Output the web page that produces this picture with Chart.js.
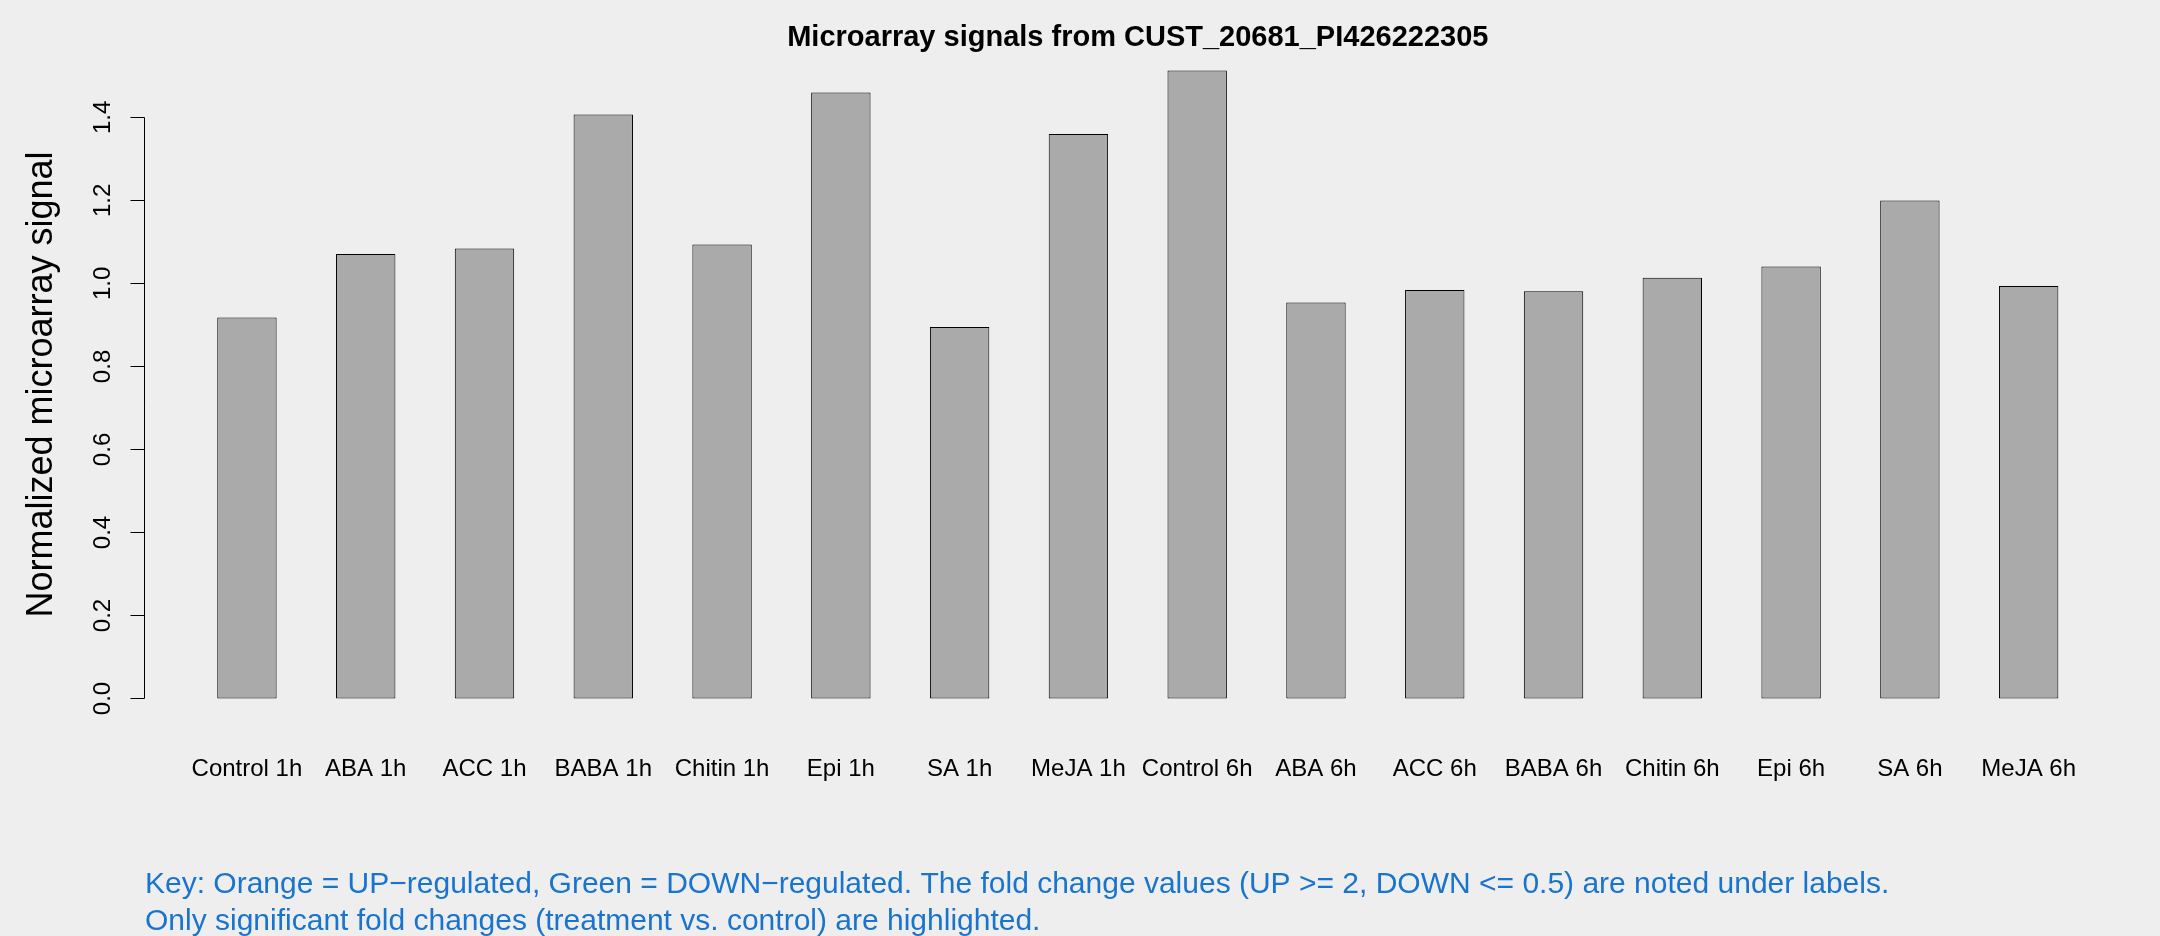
<!DOCTYPE html>
<html lang="en">
  <head>
    <meta charset="UTF-8" />
    <title>Microarray signals from CUST_20681_PI426222305</title>
    <script src="https://cdn.jsdelivr.net/npm/chart.js"></script>
    <style>
      html, body { margin: 0; padding: 0; background: #eeeeee; }
      canvas { display: block; }
    </style>
  </head>
  <body>

    <canvas id="signalChart" width="2160" height="936"></canvas>

    <script>
    const chartTitle = 'Microarray signals from CUST_20681_PI426222305';
    const yTitle = 'Normalized microarray signal';
    const categories = ['Control 1h', 'ABA 1h', 'ACC 1h', 'BABA 1h', 'Chitin 1h', 'Epi 1h', 'SA 1h', 'MeJA 1h',
                        'Control 6h', 'ABA 6h', 'ACC 6h', 'BABA 6h', 'Chitin 6h', 'Epi 6h', 'SA 6h', 'MeJA 6h'];
    const signal = [0.918, 1.071, 1.084, 1.407, 1.094, 1.460, 0.895, 1.360,
                    1.513, 0.954, 0.984, 0.981, 1.014, 1.041, 1.200, 0.994];
    const yTicks = [0, 0.2, 0.4, 0.6, 0.8, 1.0, 1.2, 1.4];
    const yTickLabels = ['0.0', '0.2', '0.4', '0.6', '0.8', '1.0', '1.2', '1.4'];
    const keyLines = [
        'Key: Orange = UP\u2212regulated, Green = DOWN\u2212regulated. The fold change values (UP >= 2, DOWN <= 0.5) are noted under labels.',
        'Only significant fold changes (treatment vs. control) are highlighted.'
    ];

    // barplot layout: bar width 1, space 1 -> bar i spans [2i+1, 2i+2]
    const mids = categories.map((c, i) => 2 * i + 1.5);
    const xMin = 1 - 0.04 * (2 * categories.length - 1);
    const xMax = 2 * categories.length + 0.04 * (2 * categories.length - 1);
    const yMax = Math.max(...signal);

    const FONT = '"Liberation Sans", Arial, Helvetica, sans-serif';

    const rAxes = {
        id: 'rAxes',
        beforeDraw(chart) {
            const {ctx, width, height} = chart;
            ctx.save();
            ctx.fillStyle = '#eeeeee';
            ctx.fillRect(0, 0, width, height);
            ctx.restore();
        },
        afterDraw(chart) {
            const {ctx, chartArea: {top, bottom, left, right}, scales: {x, y}} = chart;
            ctx.save();
            ctx.fillStyle = '#000';
            ctx.strokeStyle = '#000';

            // title
            ctx.font = 'bold 29px ' + FONT;
            ctx.textAlign = 'center';
            ctx.textBaseline = 'alphabetic';
            ctx.fillText(chartTitle, (left + right) / 2, 46);

            // y axis
            const ax = Math.round(left) + 0.5;
            ctx.lineWidth = 1;
            ctx.beginPath();
            ctx.moveTo(ax, y.getPixelForValue(yTicks[0]));
            ctx.lineTo(ax, y.getPixelForValue(yTicks[yTicks.length - 1]));
            yTicks.forEach(t => {
                const py = Math.round(y.getPixelForValue(t)) + 0.5;
                ctx.moveTo(ax, py);
                ctx.lineTo(ax - 14, py);
            });
            ctx.stroke();

            ctx.font = '24px ' + FONT;
            yTicks.forEach((t, i) => {
                ctx.save();
                ctx.translate(110, y.getPixelForValue(t));
                ctx.rotate(-Math.PI / 2);
                ctx.fillText(yTickLabels[i], 0, 0);
                ctx.restore();
            });

            // category labels
            mids.forEach((m, i) => {
                ctx.fillText(categories[i], x.getPixelForValue(m), 776);
            });

            // y title
            ctx.font = '36px ' + FONT;
            ctx.save();
            ctx.translate(52, (top + bottom) / 2);
            ctx.rotate(-Math.PI / 2);
            ctx.fillText(yTitle, 0, 0);
            ctx.restore();

            // key
            ctx.font = '30px ' + FONT;
            ctx.fillStyle = '#1874cd';
            ctx.textAlign = 'left';
            ctx.fillText(keyLines[0], 145, 893);
            ctx.fillText(keyLines[1], 145, 930);

            ctx.restore();
        }
    };

    new Chart(document.getElementById('signalChart'), {
        type: 'bar',
        data: {
            datasets: [{
                data: mids.map((m, i) => ({x: m, y: signal[i]})),
                backgroundColor: '#aaaaaa',
                borderColor: '#000000',
                borderWidth: 1,
                borderSkipped: false,
                categoryPercentage: 1,
                barPercentage: 0.5,
            }]
        },
        options: {
            responsive: false,
            animation: false,
            devicePixelRatio: 1,
            layout: {
                padding: {left: 143.6, right: 28, top: 45.4, bottom: 212.4}
            },
            scales: {
                x: {type: 'linear', min: xMin, max: xMax, offset: false, display: false},
                y: {min: -0.04 * yMax, max: 1.04 * yMax, display: false},
            },
            plugins: {
                legend: {display: false},
                tooltip: {enabled: false},
            },
        },
        plugins: [rAxes]
    });
    </script>
  </body>
</html>
